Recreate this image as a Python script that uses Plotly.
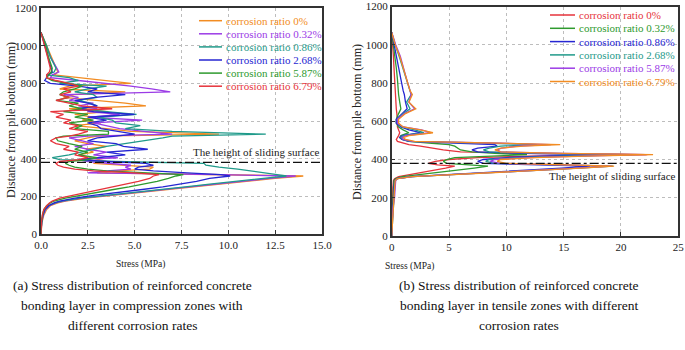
import plotly.graph_objects as go

# ---------------- data ----------------
RATIOS = ["0%", "0.32%", "0.86%", "2.68%", "5.87%", "6.79%"]
SLIDING_HEIGHT = 380

# Panel (a): compression zones
H_LEFT = [1070, 1000, 940, 880, 860, 845, 830, 815, 800, 785, 770, 755, 740, 725, 710,
          695, 680, 665, 650, 635, 620, 605, 590, 575, 560, 545, 530, 520, 510, 495,
          480, 465, 450, 435, 420, 405, 395, 385, 375, 365, 355, 345, 335, 325, 315,
          308, 295, 280, 265, 250, 235, 220, 205, 190, 175, 165, 150, 130, 100, 60, 0]
A_0 = [0, 0.3, 0.55, 0.85, 0.9, 0.7, 2.0, 3.4, 4.8, 1.5, 1.0, 4.5, 1.8, 1.2, 3.0,
       4.5, 5.6, 1.5, 3.6, 1.8, 2.8, 2.2, 3.2, 1.8, 3.5, 4.8, 9.5, 3.0, 2.5, 1.8,
       2.5, 3.5, 2.4, 2.8, 2.0, 2.7, 3.0, 3.5, 2.8, 4.5, 6.0, 5.8, 4.0, 3.0, 10.0,
       14.0, 12.5, 11.0, 9.5, 8.2, 6.8, 5.3, 3.8, 2.4, 1.3, 0.9, 0.5, 0.3, 0.15, 0.05, 0]
A_032 = [0, 0.25, 0.5, 0.85, 0.95, 0.6, 0.5, 2.0, 3.5, 4.8, 5.9, 6.9, 1.2, 2.0, 1.5,
         2.8, 2.0, 3.0, 2.5, 4.2, 2.6, 5.4, 2.8, 3.5, 4.2, 5.5, 7.0, 2.5, 1.5, 2.2,
         2.8, 1.8, 2.5, 3.5, 2.8, 4.1, 2.0, 2.5, 3.5, 4.8, 4.5, 4.8, 3.5, 2.5, 9.5,
         13.6, 12.2, 10.7, 9.2, 7.9, 6.5, 5.0, 3.6, 2.2, 1.2, 0.8, 0.45, 0.25, 0.12, 0.04, 0]
A_086 = [0, 0.3, 0.5, 0.8, 0.7, 0.3, 1.5, 2.0, 1.0, 3.5, 2.5, 1.8, 2.8, 3.0, 2.0,
         2.6, 3.0, 2.0, 3.5, 5.1, 3.0, 3.8, 4.0, 5.3, 4.5, 7.0, 12.0, 7.0, 6.5, 5.5,
         4.5, 3.5, 2.8, 2.2, 1.5, 0.6, 1.0, 4.0, 8.7, 8.8, 9.5, 10.5, 11.3, 11.8, 12.6,
         13.1, 11.8, 10.4, 9.0, 7.7, 6.3, 4.9, 3.5, 2.1, 1.1, 0.75, 0.4, 0.22, 0.1, 0.03, 0]
A_268 = [0, 0.2, 0.35, 0.55, 0.6, 0.4, 0.3, 0.2, 0.5, 2.0, 3.0, 2.5, 4.5, 2.9, 1.8,
         2.5, 3.0, 2.0, 2.8, 5.0, 2.5, 3.5, 2.5, 3.0, 3.2, 4.0, 5.0, 4.0, 3.0, 2.5,
         4.0, 4.4, 5.7, 3.5, 4.5, 3.0, 2.0, 3.5, 5.6, 6.0, 5.2, 5.0, 6.0, 7.8, 9.6,
         10.1, 9.0, 8.3, 7.5, 6.5, 5.3, 4.0, 2.8, 1.8, 1.0, 0.7, 0.4, 0.2, 0.1, 0.03, 0]
A_587 = [0, 0.25, 0.4, 0.6, 0.55, 0.4, 0.3, 0.6, 1.5, 2.2, 1.8, 1.2, 1.0, 1.5, 0.8,
         2.0, 1.5, 2.2, 1.2, 2.5, 1.8, 2.8, 1.5, 2.2, 1.8, 3.6, 3.6, 1.2, 0.8, 0.9,
         1.5, 2.2, 1.8, 2.5, 2.0, 3.0, 2.5, 1.5, 1.3, 1.5, 1.8, 2.5, 3.5, 6.0, 7.6,
         7.2, 6.8, 6.2, 5.5, 4.7, 3.8, 2.9, 2.0, 1.3, 0.7, 0.5, 0.3, 0.15, 0.08, 0.03, 0]
A_679 = [0, 0.2, 0.35, 0.5, 0.45, 0.3, 0.3, 0.8, 1.5, 2.0, 1.2, 1.6, 1.0, 1.5, 0.8,
         1.5, 2.2, 3.8, 0.5, 1.2, 0.8, 1.6, 1.2, 2.0, 1.5, 2.5, 2.0, 1.5, 0.8, 0.5,
         0.8, 1.5, 1.2, 2.0, 1.8, 2.5, 2.0, 1.0, 0.8, 0.9, 1.2, 1.8, 2.8, 5.0, 6.3,
         6.0, 5.8, 5.2, 4.5, 3.7, 3.0, 2.3, 1.6, 1.0, 0.6, 0.45, 0.3, 0.15, 0.07, 0.02, 0]

# Panel (b): tensile zones
H_RIGHT = [1065, 1000, 940, 880, 820, 760, 740, 700, 665, 640, 610, 590, 570, 555, 540,
           525, 515, 505, 495, 485, 478, 470, 460, 450, 440, 432, 425, 418, 410, 400,
           390, 380, 372, 365, 355, 340, 325, 310, 300, 290, 250, 200, 150, 100, 50, 0]
B_0 = [0, 0.1, 0.15, 0.2, 0.25, 0.3, 0.3, 0.35, 0.4, 0.45, 0.5, 0.5, 0.5, 0.6, 0.7,
       0.6, 0.5, 0.4, 0.5, 1.0, 1.5, 2.5, 3.5, 4.5, 6.0, 12.0, 22.3, 12.0, 7.5, 5.0,
       3.8, 3.2, 4.0, 5.5, 4.7, 3.3, 1.9, 0.6, 0.25, 0.15, 0.1, 0.08, 0.05, 0.03, 0.01, 0]
B_032 = [0, 0.15, 0.3, 0.4, 0.5, 0.55, 0.6, 0.7, 0.8, 0.6, 0.4, 0.4, 0.6, 1.0, 1.5,
         0.8, 0.7, 0.9, 1.5, 3.5, 5.0, 5.5, 5.8, 6.0, 7.0, 9.0, 11.8, 8.0, 5.5, 4.8,
         4.5, 4.8, 6.5, 8.4, 7.2, 5.0, 2.9, 0.9, 0.35, 0.2, 0.15, 0.1, 0.06, 0.03, 0.01, 0]
B_086 = [0, 0.2, 0.4, 0.55, 0.8, 1.0, 1.1, 1.2, 1.35, 0.9, 0.4, 0.4, 0.8, 1.5, 2.5,
         0.9, 0.7, 0.9, 1.5, 6.0, 9.0, 9.2, 7.5, 7.0, 7.5, 11.5, 18.0, 13.0, 10.0, 8.0,
         7.5, 8.0, 12.5, 17.3, 14.8, 10.5, 6.0, 1.7, 0.45, 0.25, 0.2, 0.15, 0.08, 0.04, 0.02, 0]
B_268 = [0, 0.3, 0.65, 0.95, 1.25, 1.55, 1.7, 1.3, 1.6, 1.0, 0.5, 0.5, 0.9, 2.0, 2.8,
         1.0, 0.8, 1.0, 1.6, 8.5, 12.7, 9.5, 8.5, 8.0, 8.5, 13.5, 21.0, 15.0, 11.0, 8.5,
         8.2, 9.0, 14.0, 19.3, 16.3, 11.4, 6.4, 1.8, 0.5, 0.3, 0.25, 0.2, 0.1, 0.05, 0.02, 0]
B_587 = [0, 0.35, 0.75, 1.0, 1.3, 1.6, 1.7, 1.5, 2.0, 1.1, 0.5, 0.5, 1.0, 2.6, 3.4,
         1.2, 0.9, 1.0, 1.8, 9.5, 13.9, 11.0, 9.6, 9.2, 9.5, 15.0, 22.2, 16.5, 12.0, 9.0,
         8.6, 9.5, 14.5, 19.2, 16.2, 11.3, 6.3, 1.8, 0.5, 0.35, 0.3, 0.25, 0.12, 0.06, 0.02, 0]
B_679 = [0, 0.3, 0.7, 1.0, 1.3, 1.6, 1.8, 1.5, 2.1, 1.2, 0.6, 0.6, 1.0, 2.5, 3.6,
         1.5, 1.0, 1.2, 2.0, 10.0, 14.7, 11.5, 9.5, 9.0, 9.5, 15.0, 22.8, 17.0, 12.5, 9.5,
         9.2, 10.0, 15.0, 19.4, 16.5, 11.5, 6.5, 1.8, 0.5, 0.3, 0.25, 0.2, 0.1, 0.05, 0.02, 0]

LEFT_SERIES = [A_0, A_032, A_086, A_268, A_587, A_679]
RIGHT_SERIES = [B_0, B_032, B_086, B_268, B_587, B_679]

LEFT_COLORS = ["#F28C22", "#9B3BE6", "#1F9A8A", "#2626D2", "#2E9A2E", "#E6333B"]
RIGHT_COLORS = ["#E6333B", "#2E9A2E", "#2626D2", "#1F9A8A", "#9B3BE6", "#F28C22"]

LEFT_XTICKS = [0, 2.5, 5, 7.5, 10, 12.5, 15]
RIGHT_XTICKS = [0, 5, 10, 15, 20, 25]
YTICKS = [0, 200, 400, 600, 800, 1000, 1200]

X_TITLE = "Stress (MPa)"
Y_TITLE = "Distance from pile bottom (mm)"
SLIDING_LABEL = "The height of sliding surface"
CAPTION_A = ["(a) Stress distribution of reinforced concrete",
             "bonding layer in compression zones with",
             "different corrosion rates"]
CAPTION_B = ["(b) Stress distribution of reinforced concrete",
             "bonding layer in tensile zones with different",
             "corrosion rates"]

# ---------------- figure ----------------
W, H = 685, 350
SERIF = "Liberation Serif"
TXT = "#222222"


def px(x):
    return x / W


def py(y):
    return 1 - y / H


fig = go.Figure()

for ser, col, r in zip(LEFT_SERIES, LEFT_COLORS, RATIOS):
    fig.add_trace(go.Scatter(x=ser, y=H_LEFT, mode="lines", name="corrosion ratio " + r,
                             line=dict(color=col, width=1.3), xaxis="x", yaxis="y",
                             showlegend=False))
for ser, col, r in zip(RIGHT_SERIES, RIGHT_COLORS, RATIOS):
    fig.add_trace(go.Scatter(x=ser, y=H_RIGHT, mode="lines", name="corrosion ratio " + r,
                             line=dict(color=col, width=1.3), xaxis="x2", yaxis="y2",
                             showlegend=False))

axis_common = dict(showgrid=True, gridcolor="#BDBDBD", griddash="dot", gridwidth=1,
                   ticks="inside", ticklen=4, tickcolor="#333", showline=True,
                   linecolor="#333", linewidth=1.5, mirror=True, zeroline=False,
                   automargin=False, ticklabeloverflow="allow",
                   tickfont=dict(family=SERIF, size=11, color=TXT))

fig.update_layout(
    template="none",
    width=W, height=H, margin=dict(l=0, r=0, t=0, b=0, pad=0),
    paper_bgcolor="white", plot_bgcolor="white", showlegend=False,
    font=dict(family=SERIF, color=TXT),
    xaxis=dict(domain=[px(41), px(322)], range=[0, 15], tickvals=LEFT_XTICKS,
               ticktext=[f"{v:.1f}" for v in LEFT_XTICKS], anchor="y", **axis_common),
    yaxis=dict(domain=[py(234), py(8)], range=[0, 1200], tickvals=YTICKS, anchor="x",
               **axis_common),
    xaxis2=dict(domain=[px(391.7), px(678.3)], range=[0, 25], tickvals=RIGHT_XTICKS,
                anchor="y2", **axis_common),
    yaxis2=dict(domain=[py(236), py(6.5)], range=[0, 1200], tickvals=YTICKS, anchor="x2",
                **axis_common),
)

# sliding surface lines
for xr, yr in (("x domain", "y"), ("x2 domain", "y2")):
    fig.add_shape(type="line", xref=xr, yref=yr, x0=0, x1=1, y0=SLIDING_HEIGHT,
                  y1=SLIDING_HEIGHT, line=dict(color="#111", width=1.3, dash="dashdot"))

ann = []
ann.append(dict(xref="x domain", yref="y", x=1, y=SLIDING_HEIGHT, xanchor="right",
                yanchor="bottom", yshift=2, text=SLIDING_LABEL, showarrow=False,
                font=dict(family=SERIF, size=11, color=TXT)))
ann.append(dict(xref="x2 domain", yref="y2", x=1, y=SLIDING_HEIGHT, xanchor="right",
                yanchor="top", yshift=-5, text=SLIDING_LABEL, showarrow=False,
                font=dict(family=SERIF, size=11, color=TXT)))


# custom compact legends
def add_legend(colors, x_line0, x_line1, x_text, y0, dy):
    for i, (col, r) in enumerate(zip(colors, RATIOS)):
        yy = y0 + i * dy
        fig.add_shape(type="line", xref="paper", yref="paper", x0=px(x_line0),
                      x1=px(x_line1), y0=py(yy), y1=py(yy),
                      line=dict(color=col, width=1.5))
        ann.append(dict(xref="paper", yref="paper", x=px(x_text), y=py(yy),
                        xanchor="left", yanchor="middle", showarrow=False,
                        text="corrosion ratio " + r,
                        font=dict(family=SERIF, size=11, color=col)))


add_legend(LEFT_COLORS, 199, 222, 224, 20.7, 13.1)
add_legend(RIGHT_COLORS, 550, 575, 577, 15, 13.3)

# axis titles
for xc, yc in ((140, 264), (409, 266)):
    ann.append(dict(xref="paper", yref="paper", x=px(xc), y=py(yc), xanchor="center",
                    yanchor="middle", showarrow=False, text=X_TITLE,
                    font=dict(family=SERIF, size=9.5, color=TXT)))
for xc, yc in ((11, 120), (357, 122)):
    ann.append(dict(xref="paper", yref="paper", x=px(xc), y=py(yc), xanchor="center",
                    yanchor="middle", showarrow=False, text=Y_TITLE, textangle=-90,
                    font=dict(family=SERIF, size=12, color=TXT)))

# captions
for lines, xc in ((CAPTION_A, 132), (CAPTION_B, 519)):
    for i, t in enumerate(lines):
        ann.append(dict(xref="paper", yref="paper", x=px(xc), y=py(285 + 20 * i),
                        xanchor="center", yanchor="middle", showarrow=False, text=t,
                        font=dict(family=SERIF, size=13.5, color="#111")))

fig.update_layout(annotations=ann)
# remove the browser's default 8px page margin so the figure sits at the window origin
fig.write_html("out.html", config={"displayModeBar": False},
               post_script="document.body.style.margin='0px';document.body.style.padding='0px';")
